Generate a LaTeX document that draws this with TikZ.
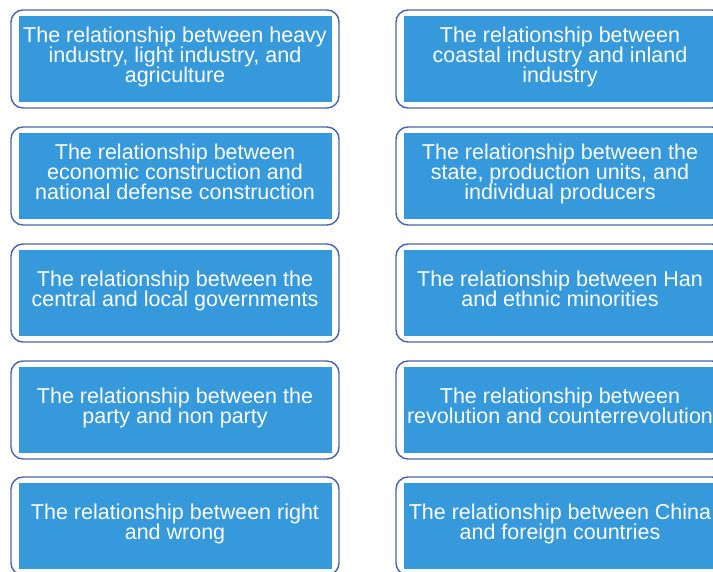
\documentclass[tikz,border=0pt]{standalone}
\usepackage{fontspec}
\setmainfont{Liberation Sans}
\definecolor{framecol}{RGB}{72,100,172}
\definecolor{panelcol}{RGB}{54,153,219}
\newcommand\relfont{\fontsize{21.5pt}{20pt}\selectfont\lineskiplimit=-10pt}
% fixed first-line height and last-line depth so every caption sits alike
\newcommand\toprule{\rule{0pt}{15.8pt}}
\newcommand\botrule{\rule[-5pt]{0pt}{5pt}}
\tikzset{
  frame/.style={draw=framecol, line width=1.4pt, rounded corners=12pt,
    minimum width=328pt, minimum height=98pt, inner sep=0pt},
  panel/.style={fill=panelcol, minimum width=313pt, minimum height=86.5pt, inner sep=0pt},
  caption/.style={text=white, align=center, font=\relfont, inner sep=0pt, yshift=1.6pt}
}
\begin{document}
\begin{tikzpicture}[x=1pt,y=1pt]
  \clip (0,0) rectangle (713,571);
  \fill[white] (0,0) rectangle (713,571);
  % one framed panel per relationship: frame, filled panel, caption
  \foreach \name/\x/\y/\txt in {
    a1/175/512/{The relationship between heavy\\industry, light industry, and\\agriculture},
    a2/175/395/{The relationship between\\economic construction and\\national defense construction},
    a3/175/278/{The relationship between the\\central and local governments},
    a4/175/161/{The relationship between the\\party and non party},
    a5/175/45/{The relationship between right\\and wrong},
    b1/560/512/{The relationship between\\coastal industry and inland\\industry},
    b2/560/395/{The relationship between the\\state, production units, and\\individual producers},
    b3/560/278/{The relationship between Han\\and ethnic minorities},
    b4/560/161/{The relationship between\\revolution and counterrevolution},
    b5/560/45/{The relationship between China\\and foreign countries}} {
    \node[frame] (\name-frame) at (\x,\y) {};
    \node[panel] (\name-panel) at (\x,\y) {};
    \node[caption] (\name-text) at (\name-panel.center) {\toprule\txt\botrule};
  }
\end{tikzpicture}
\end{document}
